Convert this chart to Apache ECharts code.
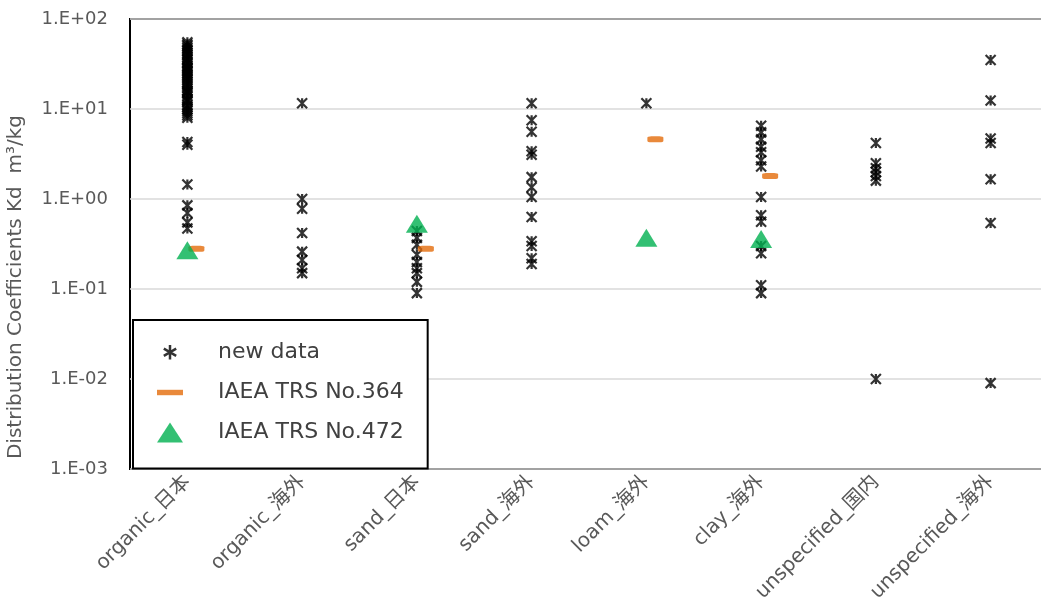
<!DOCTYPE html>
<html>
<head>
<meta charset="utf-8">
<script src="https://cdn.jsdelivr.net/npm/echarts@6/dist/echarts.min.js"></script>
<style>
html,body{margin:0;padding:0;background:#fff;}
#chart{width:1041px;height:601px;}
</style>
</head>
<body>
<div id="chart"></div>
<script>
// ---- data ----
const categories = ['organic_日本','organic_海外','sand_日本','sand_海外','loam_海外','clay_海外','unspecified_国内','unspecified_海外'];

const organicJapan = [55, 52, 50, 48, 46, 44, 42, 40, 38, 36, 35, 33, 32, 30, 29, 28, 27, 26, 25, 24, 23, 22, 21, 20, 19, 18, 17, 16, 15.5, 15, 14, 13, 12.5, 12, 11, 10.5, 10, 9.5, 9, 8.5, 8, 4.3, 4.0, 1.45, 0.85, 0.7, 0.55, 0.47];
const organicOverseas = [11.6, 1.0, 0.78, 0.42, 0.26, 0.21, 0.17, 0.15];
const sandJapan = [0.44, 0.37, 0.31, 0.24, 0.2, 0.17, 0.15, 0.12, 0.09];
const sandOverseas = [11.6, 7.5, 5.6, 3.4, 3.1, 1.75, 1.35, 1.05, 0.63, 0.34, 0.3, 0.22, 0.19];
const loamOverseas = [11.6];
const clayOverseas = [6.5, 5.5, 4.6, 3.8, 3.3, 2.7, 2.3, 1.05, 0.66, 0.56, 0.3, 0.25, 0.11, 0.09];
const unspecDomestic = [4.2, 2.5, 2.2, 2.0, 1.8, 1.6, 0.01];
const unspecOverseas = [35, 12.4, 4.7, 4.2, 1.66, 0.54, 0.009];

const trs364 = [0.28, null, 0.28, null, 4.6, 1.8, null, null];
const trs472 = [0.27, null, 0.53, null, 0.37, 0.36, null, null];

const yTickLabels = ['1.E-03','1.E-02','1.E-01','1.E+00','1.E+01','1.E+02'];
const seriesNames = ['new data', 'IAEA TRS No.364', 'IAEA TRS No.472'];
const yAxisTitle = 'Distribution Coefficients Kd  m³/kg';

// ---- build ----
const groups = [organicJapan, organicOverseas, sandJapan, sandOverseas, loamOverseas, clayOverseas, unspecDomestic, unspecOverseas];
const newPoints = [];
groups.forEach((arr, i) => arr.forEach(v => newPoints.push([categories[i], v])));
const pts364 = trs364.map((v, i) => v == null ? null : [categories[i], v]).filter(Boolean);
const pts472 = trs472.map((v, i) => v == null ? null : [categories[i], v]).filter(Boolean);

const STAR = 'path://M0,0L10,10M10,0L0,10M5,0L5,10';
const ASTER = 'path://M-2,-2L-2,-2M12,12L12,12M5,0L5,10M0.67,2.5L9.33,7.5M9.33,2.5L0.67,7.5';
const DASH = 'path://M0,0H24V5H0Z';
const FONT = '"DejaVu Sans", "Noto Sans CJK JP", sans-serif';
const ORANGE = '#e46c0a';
const GREEN = '#00b050';

const chart = echarts.init(document.getElementById('chart'), null, {renderer: 'canvas'});
chart.setOption({
  animation: false,
  backgroundColor: '#fff',
  textStyle: {fontFamily: FONT},
  grid: {
    left: 130, top: 19, width: 918, height: 450,
    outerBoundsMode: 'none', containLabel: false,
    show: true, borderColor: '#000', borderWidth: 2, backgroundColor: 'transparent'
  },
  xAxis: {
    type: 'category',
    data: categories,
    boundaryGap: true,
    axisLine: {show: false},
    axisTick: {show: false},
    splitLine: {show: false},
    axisLabel: {
      rotate: 45, margin: 10, color: '#595959', fontSize: 20, fontFamily: FONT, interval: 0
    }
  },
  yAxis: {
    type: 'log',
    logBase: 10,
    min: 0.001,
    max: 100,
    name: yAxisTitle,
    nameLocation: 'middle',
    nameGap: 104,
    nameRotate: 90,
    nameTextStyle: {color: '#595959', fontSize: 20, fontFamily: FONT, padding: [0, 86, 0, 0]},
    axisLine: {show: false},
    axisTick: {show: false},
    splitLine: {show: true, lineStyle: {color: '#d9d9d9', width: 1.5}},
    axisLabel: {
      color: '#595959', fontSize: 18, margin: 22, fontFamily: FONT,
      formatter: v => yTickLabels[Math.round(Math.log10(v)) + 3]
    }
  },
  legend: {
    orient: 'vertical',
    left: 133, top: 320,
    padding: [21, 24, 25, 24],
    itemWidth: 26, itemHeight: 20, itemGap: 18,
    backgroundColor: '#fff',
    borderColor: '#000', borderWidth: 2,
    textStyle: {color: '#404040', fontSize: 22, fontFamily: FONT, padding: [0, 0, 0, 30]},
    data: [
      {name: seriesNames[0], icon: ASTER, itemStyle: {color: '#000', borderColor: '#000', borderWidth: 2.5}},
      {name: seriesNames[1], icon: DASH, itemStyle: {color: ORANGE, borderWidth: 0}},
      {name: seriesNames[2], icon: 'triangle', itemStyle: {color: GREEN, borderWidth: 0}}
    ],
    z: 10
  },
  series: [
    {
      name: seriesNames[0], type: 'scatter', data: newPoints,
      symbol: STAR, symbolSize: 10, symbolKeepAspect: false,
      itemStyle: {color: '#000', borderColor: '#000', borderWidth: 2.2},
      z: 2
    },
    {
      name: seriesNames[1], type: 'scatter', data: pts364,
      symbol: 'roundRect', symbolSize: [16, 6], symbolOffset: [9, 0],
      itemStyle: {color: ORANGE},
      z: 3
    },
    {
      name: seriesNames[2], type: 'scatter', data: pts472,
      symbol: 'triangle', symbolSize: [22, 18],
      itemStyle: {color: GREEN},
      z: 4
    }
  ]
});
</script>
</body>
</html>
